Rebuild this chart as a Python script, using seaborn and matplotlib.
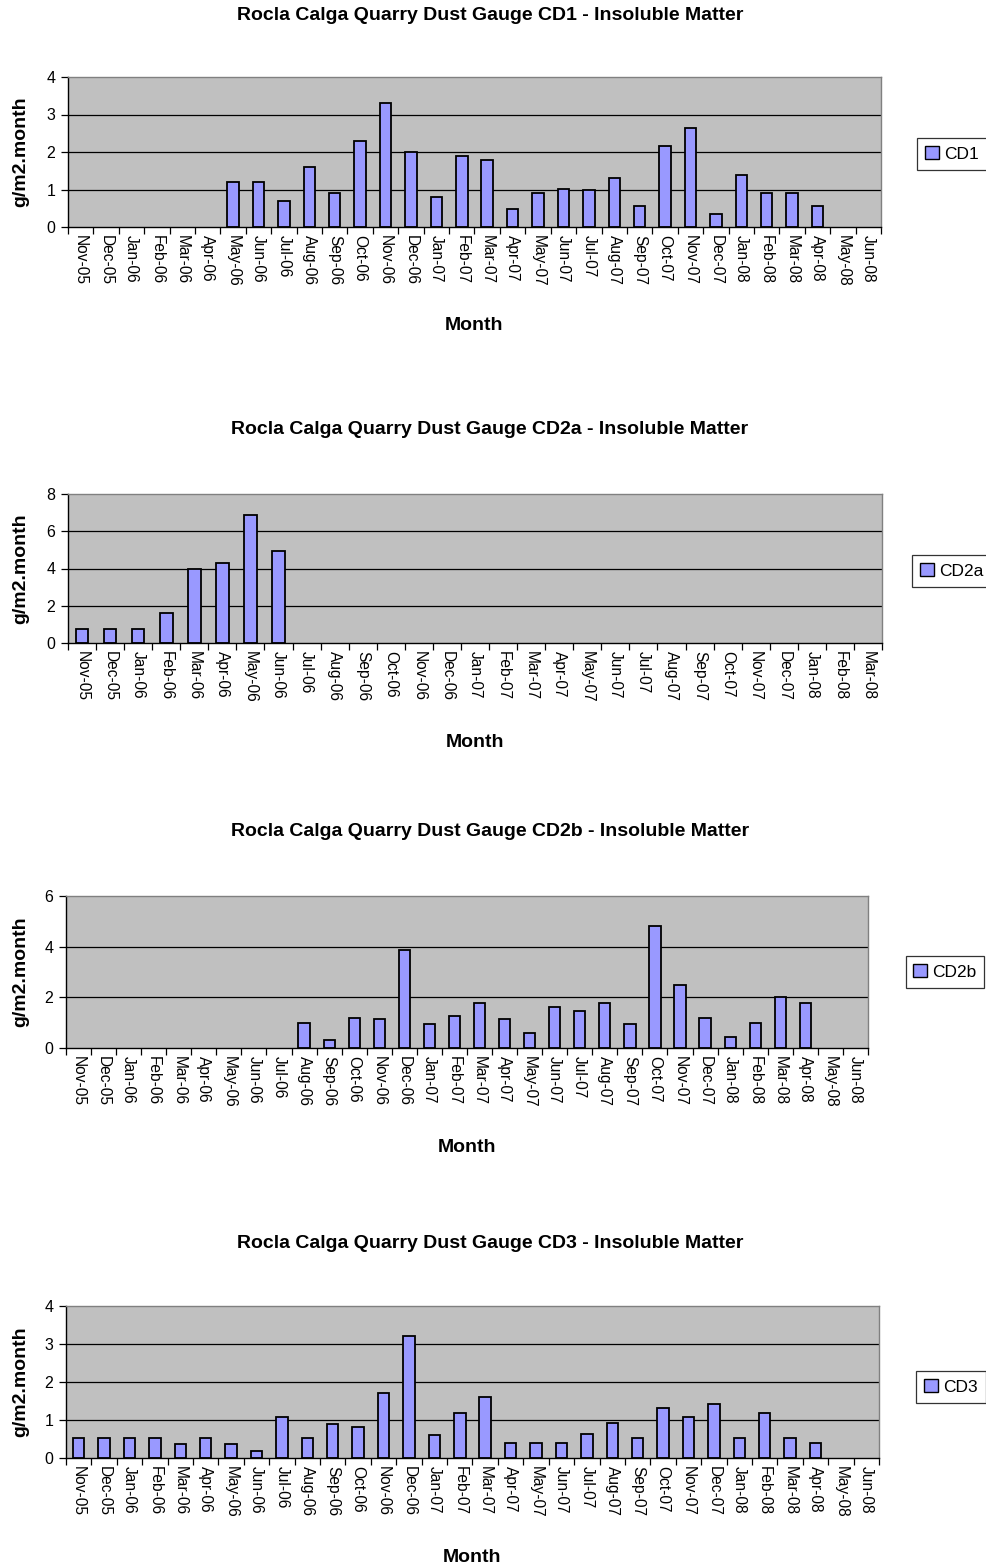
import numpy as np
import pandas as pd
import matplotlib
matplotlib.use("Agg")
import matplotlib.pyplot as plt
from matplotlib.patches import Patch
import seaborn as sns

nan = np.nan

months_full = ["Nov-05", "Dec-05", "Jan-06", "Feb-06", "Mar-06", "Apr-06", "May-06", "Jun-06",
               "Jul-06", "Aug-06", "Sep-06", "Oct-06", "Nov-06", "Dec-06", "Jan-07", "Feb-07",
               "Mar-07", "Apr-07", "May-07", "Jun-07", "Jul-07", "Aug-07", "Sep-07", "Oct-07",
               "Nov-07", "Dec-07", "Jan-08", "Feb-08", "Mar-08", "Apr-08", "May-08", "Jun-08"]
months_cd2a = months_full[:29]

cd1 = [nan, nan, nan, nan, nan, nan, 1.2, 1.2, 0.7, 1.6, 0.9, 2.3, 3.3, 2.0, 0.8, 1.9,
       1.8, 0.47, 0.9, 1.02, 1.0, 1.3, 0.56, 2.15, 2.63, 0.36, 1.4, 0.9, 0.9, 0.57, nan, nan]
cd2a = [0.75, 0.75, 0.75, 1.62, 4.0, 4.3, 6.88, 4.96] + [nan] * 21
cd2b = [nan, nan, nan, nan, nan, nan, nan, nan, nan, 1.0, 0.3, 1.2, 1.14, 3.88, 0.93, 1.28,
        1.78, 1.14, 0.58, 1.62, 1.48, 1.78, 0.93, 4.8, 2.49, 1.2, 0.43, 1.0, 2.0, 1.78, nan, nan]
cd3 = [0.52, 0.52, 0.52, 0.52, 0.38, 0.52, 0.38, 0.19, 1.08, 0.52, 0.9, 0.81, 1.7, 3.21, 0.61, 1.19,
       1.6, 0.39, 0.39, 0.39, 0.62, 0.91, 0.53, 1.32, 1.09, 1.43, 0.53, 1.19, 0.53, 0.39, nan, nan]

W, H = 987, 1568
sns.set_theme(style="white")
plt.rcParams['font.family'] = ['Liberation Sans', 'DejaVu Sans']
plt.rcParams['text.color'] = 'black'
plt.rcParams['xtick.color'] = 'black'
plt.rcParams['ytick.color'] = 'black'
plt.rcParams['xtick.labelcolor'] = 'black'
plt.rcParams['ytick.labelcolor'] = 'black'

fig = plt.figure(figsize=(W / 100, H / 100), dpi=100)
fig.patch.set_facecolor("white")

BAR = "#9999FF"
BG = "#C0C0C0"

panels = [
    dict(name="CD1", months=months_full, vals=cd1, ymax=4, step=1,
         box=(68, 881, 77, 227), title_y=15, month_y=326, leg=(952, 154)),
    dict(name="CD2a", months=months_cd2a, vals=cd2a, ymax=8, step=2,
         box=(68, 882, 494, 643), title_y=430, month_y=743, leg=(952, 571)),
    dict(name="CD2b", months=months_full, vals=cd2b, ymax=6, step=2,
         box=(66, 868, 896, 1048), title_y=832, month_y=1147, leg=(945, 972)),
    dict(name="CD3", months=months_full, vals=cd3, ymax=4, step=1,
         box=(66, 879, 1306, 1458), title_y=1243, month_y=1557, leg=(951, 1387)),
]

for p in panels:
    l, r, t, b = p["box"]
    ax = fig.add_axes([l / W, 1 - b / H, (r - l) / W, (b - t) / H])
    df = pd.DataFrame({"Month": p["months"], "Value": p["vals"]})
    n = len(p["months"])
    sns.barplot(data=df, x="Month", y="Value", order=p["months"], ax=ax,
                color=BAR, edgecolor="black", linewidth=1.3, width=0.45,
                saturation=1, errorbar=None)
    ax.set_facecolor(BG)
    ax.set_xlim(-0.5, n - 0.5)
    ax.set_ylim(0, p["ymax"])
    yt = np.arange(0, p["ymax"] + 0.001, p["step"])
    ax.set_yticks(yt)
    ax.set_yticklabels([f"{int(v)}" for v in yt], fontsize=11.5, color="black")
    for v in yt[1:-1]:
        ax.axhline(v, color="black", lw=0.9, zorder=0.5)
    ax.set_axisbelow(True)
    ax.set_xticks(range(n))
    ax.set_xticklabels(p["months"], rotation=-90, fontsize=11.2, va="top", ha="center", color="black")
    ax.set_xticks(np.arange(-0.5, n, 1.0), minor=True)
    ax.tick_params(axis="x", which="major", length=0, pad=6)
    ax.tick_params(axis="x", which="minor", length=5, width=0.9, color="black", direction="out", bottom=True)
    ax.tick_params(axis="y", which="major", length=5, width=0.9, color="black", direction="out", left=True, pad=4)
    ax.set_xlabel("")
    ax.set_ylabel("")
    for s in ["top", "right"]:
        ax.spines[s].set_color("#808080")
        ax.spines[s].set_linewidth(1.0)
    for s in ["left", "bottom"]:
        ax.spines[s].set_color("black")
        ax.spines[s].set_linewidth(1.0)

    fig.text(490 / W, 1 - p["title_y"] / H,
             f"Rocla Calga Quarry Dust Gauge {p['name']} - Insoluble Matter",
             ha="center", va="center", fontsize=14, fontweight="bold", color="black")
    fig.text((l + r) / 2 / W, 1 - p["month_y"] / H, "Month",
             ha="center", va="center", fontsize=14, fontweight="bold", color="black")
    fig.text(21 / W, 1 - (t + b) / 2 / H, "g/m2.month", rotation=90,
             ha="center", va="center", fontsize=14, fontweight="bold", color="black")

    handle = Patch(facecolor=BAR, edgecolor="black", linewidth=1.0)
    leg = ax.legend([handle], [p["name"]], loc="center",
                    bbox_to_anchor=(p["leg"][0] / W, 1 - p["leg"][1] / H),
                    bbox_transform=fig.transFigure, frameon=True, fancybox=False,
                    fontsize=12.5, handlelength=0.8, handleheight=0.8, handletextpad=0.3,
                    borderpad=0.45, borderaxespad=0)
    leg.get_frame().set_edgecolor("black")
    leg.get_frame().set_linewidth(0.9)
    for txt in leg.get_texts():
        txt.set_color("black")

fig.savefig("out.png", dpi=100, facecolor="white")
